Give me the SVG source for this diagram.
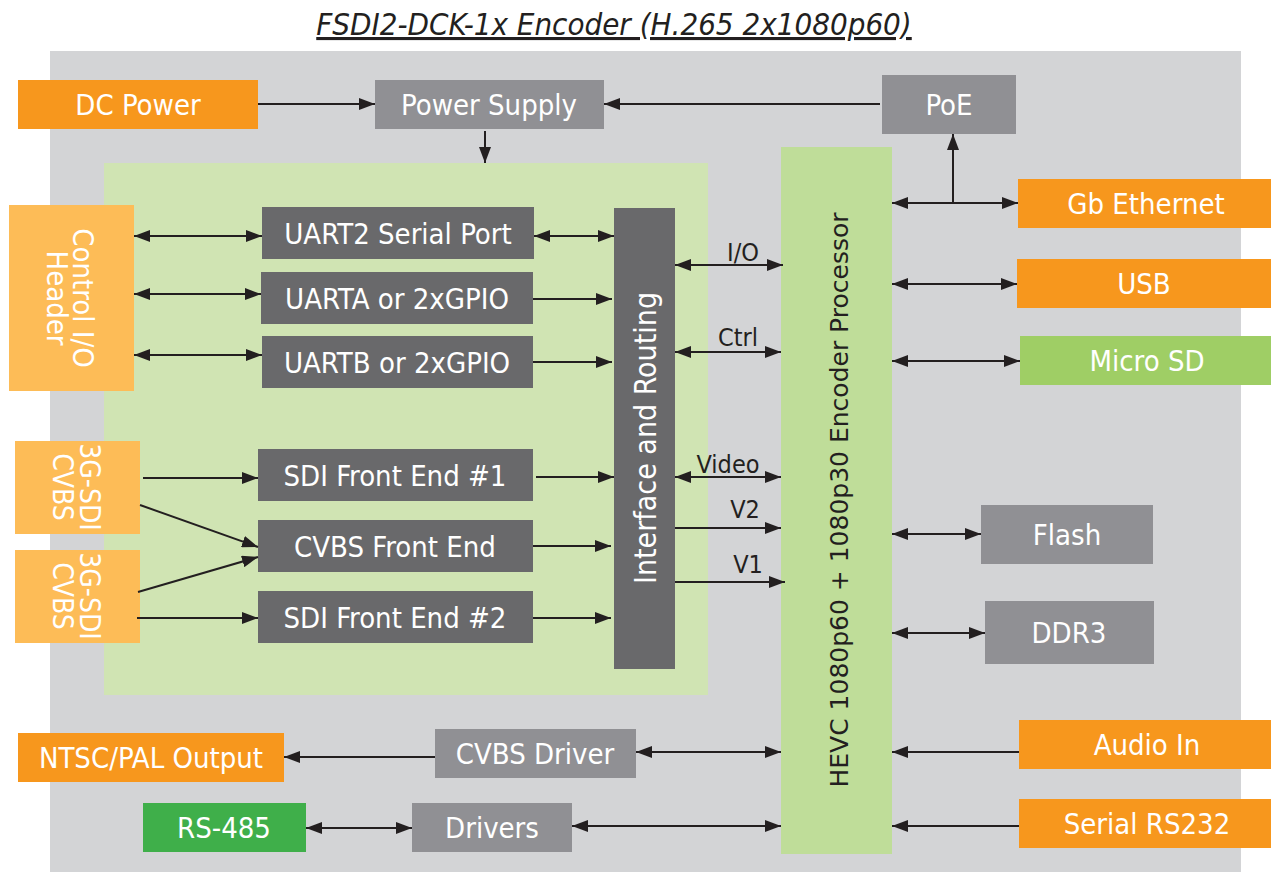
<svg xmlns="http://www.w3.org/2000/svg" width="1271" height="872" viewBox="0 0 1271 872">
<defs>
<marker id="ah" viewBox="0 0 16 12" refX="16" refY="6" markerWidth="16" markerHeight="12" markerUnits="userSpaceOnUse" orient="auto-start-reverse">
<path d="M0,0 L16,6 L0,12 z" fill="#231F20"/>
</marker>
<style>
.t{font-family:"DejaVu Sans Condensed","DejaVu Sans",sans-serif;font-stretch:condensed;font-size:29px;fill:#FFFFFF;text-anchor:middle}
.k{font-family:"DejaVu Sans Condensed","DejaVu Sans",sans-serif;font-stretch:condensed;font-size:25px;fill:#231F20;text-anchor:middle}
.or{fill:#F7971D}
.lo{fill:#FDBC57}
.mg{fill:#909094}
.dg{fill:#69696B}
.c{stroke:#231F20;stroke-width:2;fill:none}
.a{marker-end:url(#ah)}
.b{marker-start:url(#ah);marker-end:url(#ah)}
</style>
</defs>
<rect width="1271" height="872" fill="#FFFFFF"/>
<text x="614" y="35" font-family="DejaVu Sans Condensed, DejaVu Sans, sans-serif" font-stretch="condensed" font-size="31" font-style="italic" text-decoration="underline" fill="#231F20" text-anchor="middle">FSDI2-DCK-1x Encoder (H.265 2x1080p60)</text>
<rect id="board" x="50" y="51" width="1191" height="821" fill="#D3D4D6"/>
<rect id="io-region" x="104" y="163" width="604" height="532" fill="#D0E4B3"/>

<g id="hevc"><rect x="781" y="147" width="111" height="707" fill="#BFDD99"/>
<text transform="translate(848,500) rotate(-90)" font-family="DejaVu Sans, sans-serif" font-size="25" fill="#231F20" text-anchor="middle">HEVC 1080p60 + 1080p30 Encoder Processor</text></g>
<g id="dc-power"><rect class="or" x="18" y="80" width="240" height="49"/><text class="t" x="138" y="115">DC Power</text></g>
<g id="power-supply"><rect class="mg" x="375" y="80" width="229" height="49"/><text class="t" x="489" y="115">Power Supply</text></g>
<g id="poe"><rect class="mg" x="882" y="75" width="134" height="59"/><text class="t" x="949" y="115">PoE</text></g>
<g id="gb-ethernet"><rect class="or" x="1018" y="179" width="253" height="49"/><text class="t" x="1146" y="214">Gb Ethernet</text></g>
<g id="usb"><rect class="or" x="1017" y="259" width="254" height="49"/><text class="t" x="1144" y="294">USB</text></g>
<g id="micro-sd"><rect x="1020" y="336" width="251" height="49" fill="#9FCE65"/><text class="t" x="1147" y="371">Micro SD</text></g>
<g id="control-io"><rect class="lo" x="9" y="205" width="125" height="186"/>
<text class="t" transform="translate(73,298) rotate(90)"><tspan x="0" y="0">Control I/O</tspan><tspan x="0" y="26">Header</tspan></text></g>
<g id="uart2"><rect class="dg" x="262" y="207" width="272" height="52"/><text class="t" x="398" y="244">UART2 Serial Port</text></g>
<g id="uarta"><rect class="dg" x="261" y="272" width="272" height="52"/><text class="t" x="397" y="309">UARTA or 2xGPIO</text></g>
<g id="uartb"><rect class="dg" x="262" y="336" width="271" height="52"/><text class="t" x="397" y="373">UARTB or 2xGPIO</text></g>
<g id="interface"><rect class="dg" x="614" y="208" width="61" height="461"/>
<text class="t" style="font-size:30px" transform="translate(656,438) rotate(-90)">Interface and Routing</text></g>
<g id="sdi-in-1"><rect class="lo" x="15" y="441" width="125" height="93"/>
<text class="t" style="font-size:28px" transform="translate(80,487) rotate(90)"><tspan x="0" y="0">3G-SDI</tspan><tspan x="0" y="27">CVBS</tspan></text></g>
<g id="sdi-in-2"><rect class="lo" x="15" y="550" width="125" height="93"/>
<text class="t" style="font-size:28px" transform="translate(80,596) rotate(90)"><tspan x="0" y="0">3G-SDI</tspan><tspan x="0" y="27">CVBS</tspan></text></g>
<g id="sdi-fe-1"><rect class="dg" x="258" y="449" width="275" height="52"/><text class="t" x="395" y="486">SDI Front End #1</text></g>
<g id="cvbs-fe"><rect class="dg" x="258" y="520" width="275" height="52"/><text class="t" x="395" y="557">CVBS Front End</text></g>
<g id="sdi-fe-2"><rect class="dg" x="258" y="591" width="275" height="52"/><text class="t" x="395" y="628">SDI Front End #2</text></g>
<g id="flash"><rect class="mg" x="981" y="505" width="172" height="59"/><text class="t" x="1067" y="545">Flash</text></g>
<g id="ddr3"><rect class="mg" x="985" y="601" width="169" height="63"/><text class="t" x="1069" y="643">DDR3</text></g>
<g id="ntsc-pal"><rect class="or" x="18" y="733" width="266" height="49"/><text class="t" x="151" y="768">NTSC/PAL Output</text></g>
<g id="cvbs-driver"><rect class="mg" x="435" y="729" width="201" height="49"/><text class="t" x="535" y="764">CVBS Driver</text></g>
<g id="audio-in"><rect class="or" x="1019" y="720" width="252" height="49"/><text class="t" x="1147" y="755">Audio In</text></g>
<g id="rs485"><rect x="143" y="803" width="163" height="49" fill="#3FAF4A"/><text class="t" x="224" y="838">RS-485</text></g>
<g id="drivers"><rect class="mg" x="412" y="803" width="160" height="49"/><text class="t" x="492" y="838">Drivers</text></g>
<g id="serial-rs232"><rect class="or" x="1019" y="799" width="252" height="49"/><text class="t" x="1147" y="834">Serial RS232</text></g>

<g id="connectors">
<path class="c a" d="M258,104 H375"/>
<path class="c a" d="M880,104 H604"/>
<path class="c a" d="M485,131 V163"/>
<path class="c b" d="M134,236 H262"/>
<path class="c b" d="M134,294 H261"/>
<path class="c b" d="M134,355 H262"/>
<path class="c b" d="M534,236 H614"/>
<path class="c a" d="M533,299 H612"/>
<path class="c a" d="M533,362 H612"/>
<path class="c a" d="M143,478 H258"/>
<path class="c a" d="M140,505 L258,547"/>
<path class="c a" d="M138,592 L258,557"/>
<path class="c a" d="M137,618 H258"/>
<path class="c a" d="M536,477 H614"/>
<path class="c a" d="M533,546 H611"/>
<path class="c a" d="M533,618 H611"/>
<path class="c b" d="M675,265 H783"/>
<path class="c b" d="M675,352 H781"/>
<path class="c b" d="M675,477 H781"/>
<path class="c a" d="M675,528 H781"/>
<path class="c a" d="M675,582 H785"/>
<path class="c b" d="M892,203 H1018"/>
<path class="c a" d="M953,203 V134"/>
<path class="c b" d="M892,284 H1017"/>
<path class="c b" d="M892,361 H1020"/>
<path class="c b" d="M892,534 H981"/>
<path class="c b" d="M892,633 H985"/>
<path class="c a" d="M435,757 H284"/>
<path class="c b" d="M636,752 H781"/>
<path class="c a" d="M1019,752 H892"/>
<path class="c b" d="M306,828 H412"/>
<path class="c b" d="M572,826 H781"/>
<path class="c a" d="M1019,826 H892"/>
<text class="k" x="743" y="261">I/O</text>
<text class="k" x="738" y="346">Ctrl</text>
<text class="k" x="728" y="473">Video</text>
<text class="k" x="745" y="518">V2</text>
<text class="k" x="748" y="573">V1</text>
</g>
</svg>
